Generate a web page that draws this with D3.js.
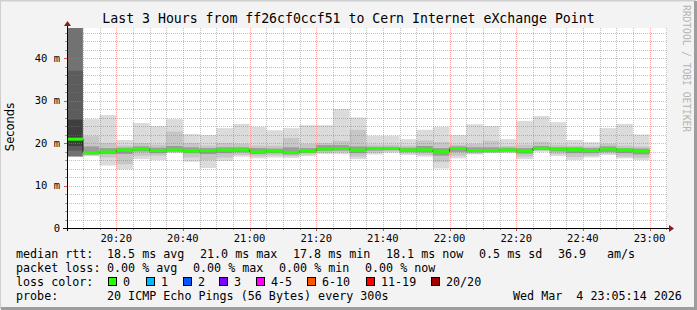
<!DOCTYPE html>
<html>
<head>
<meta charset="utf-8">
<script src="https://cdn.jsdelivr.net/npm/d3@7"></script>
<style>
body { margin: 0; background: #fff; }
svg { display: block; }
text { font-family: "DejaVu Sans Mono", monospace; fill: #000; }
</style>
</head>
<body>
<svg id="chart" width="697" height="310"></svg>
<script>
// median rtt per 5 min bin (ms), first bin is the partial one before 20:10
const median = [20.9, 17.7, 17.9, 18.35, 18.6, 18.2, 18.35, 18.1, 18.2, 18.35, 18.4, 17.9, 18.1, 17.8, 18.1, 18.6, 18.7, 18.35,
  18.7, 18.7, 18.35, 18.4, 17.95, 18.7, 18.2, 18.2, 18.35, 18.1, 18.75, 18.6, 18.5, 18.2, 18.6, 18.35, 18.1];
// smoke: outer (min..max), middle and inner spreads of the 20 pings
const pingMax = [47.5, 25.6, 26.6, 20.7, 24.7, 24.0, 25.6, 22.1, 21.9, 23.5, 24.5, 23.8, 23.0, 23.5, 24.2, 24.2, 28.0, 26.0,
  21.7, 21.7, 20.9, 23.1, 23.8, 21.9, 24.4, 24.0, 20.9, 25.2, 26.35, 24.9, 20.7, 20.2, 23.5, 24.5, 22.0];
const pingMin = [16.8, 16.9, 14.7, 13.8, 16.2, 16.0, 17.6, 15.6, 14.1, 15.8, 16.8, 16.4, 16.6, 16.5, 16.9, 17.4, 17.4, 16.2,
  17.3, 17.7, 17.2, 16.8, 14.0, 16.4, 17.3, 17.6, 17.6, 16.2, 17.95, 16.9, 16.0, 16.6, 17.2, 16.4, 16.0];
const midHi = [37.0, 21.6, 20.0, 19.4, 20.0, 19.6, 22.7, 20.0, 19.4, 20.0, 19.8, 19.4, 19.4, 21.2, 19.8, 20.0, 20.5, 23.1,
  19.6, 19.6, 19.4, 20.6, 20.2, 19.6, 19.8, 20.5, 19.3, 19.6, 20.3, 19.6, 19.4, 19.2, 19.8, 19.4, 19.2];
const midLo = [18.2, 17.1, 16.6, 15.0, 17.0, 17.0, 17.8, 16.6, 16.0, 16.6, 17.2, 16.9, 17.1, 16.9, 17.3, 17.7, 17.8, 16.8,
  17.7, 18.0, 17.5, 17.2, 15.5, 17.0, 17.5, 17.7, 17.8, 16.8, 18.1, 17.4, 16.7, 17.0, 17.5, 16.8, 16.5];
const coreHi = [25.5, 19.2, 18.8, 18.9, 19.2, 18.9, 19.3, 19.0, 18.8, 19.0, 19.0, 18.8, 18.7, 19.0, 18.8, 19.5, 19.5, 19.2,
  19.1, 19.1, 18.9, 19.3, 18.8, 19.2, 19.0, 19.0, 18.9, 18.8, 19.3, 19.0, 19.0, 18.8, 19.2, 18.8, 18.7];
const coreLo = [19.3, 17.3, 17.4, 17.4, 18.0, 17.6, 18.0, 17.6, 17.4, 17.6, 17.8, 17.4, 17.6, 17.3, 17.7, 18.1, 18.2, 17.6,
  18.2, 18.3, 17.9, 17.8, 17.0, 17.9, 17.8, 17.9, 18.0, 17.5, 18.4, 18.0, 17.6, 17.6, 17.9, 17.6, 17.3];

const yTicks = [0, 10, 20, 30, 40];
const yTickLabels = ["0", "10 m", "20 m", "30 m", "40 m"];
const xTickFormat = "%H:%M";

const lossNames = ["0", "1", "2", "3", "4-5", "6-10", "11-19", "20/20"];
const lossColors = ["#26ff00", "#00b8ff", "#0059ff", "#7e00ff", "#ff00ff", "#ff5500", "#ff0000", "#a10000"];

const title = "Last 3 Hours from ff26cf0ccf51 to Cern Internet eXchange Point";
const legendRows = [
  [["median rtt:", 16], ["18.5 ms avg", 107], ["21.0 ms max", 200], ["17.8 ms min", 293], ["18.1 ms now", 386], ["0.5 ms sd", 479], ["36.9", 558], ["am/s", 607]],
  [["packet loss:", 16], ["0.00 % avg", 107], ["0.00 % max", 193], ["0.00 % min", 279], ["0.00 % now", 365]],
  [["loss color:", 16]],
  [["probe:", 16], ["20 ICMP Echo Pings (56 Bytes) every 300s", 107], ["Wed Mar  4 23:05:14 2026", 513]]
];
const lossLegendX = [108, 146, 183, 219, 256, 307, 366, 431];

const start = new Date(2026, 2, 4, 20, 5, 14);
const end = new Date(2026, 2, 4, 23, 5, 14);
const binEnds = d3.timeMinute.every(5).range(new Date(2026, 2, 4, 20, 10), new Date(2026, 2, 4, 23, 0, 1));
const bins = binEnds.map((t, i) => ({
  start: i === 0 ? start : binEnds[i - 1],
  end: t,
  partial: i === 0,
  med: median[i],
  bands: [[pingMin[i], pingMax[i]], [midLo[i], midHi[i]], [coreLo[i], coreHi[i]]]
}));

const W = 697, H = 310;
const plot = {left: 67, right: 667, top: 28, bottom: 228};
const x = d3.scaleTime().domain([start, end]).range([plot.left, plot.right]);
const y = d3.scaleLinear().domain([0, 47.06]).range([plot.bottom, plot.top]);

const svg = d3.select("#chart");

// frame
svg.append("rect").attr("width", W).attr("height", H).attr("fill", "#f3f3f3");
svg.append("path").attr("d", `M0,${H - 1}V0.5H${W - 1}`).attr("fill", "none").attr("stroke", "#cfcfcf").attr("stroke-width", 2);
svg.append("path").attr("d", `M1,${H - 1.5}H${W - 1.5}V1`).attr("fill", "none").attr("stroke", "#9d9d9d").attr("stroke-width", 3);

svg.append("rect")
  .attr("x", plot.left).attr("y", plot.top)
  .attr("width", plot.right - plot.left).attr("height", plot.bottom - plot.top)
  .attr("fill", "#fff");

svg.append("clipPath").attr("id", "plotclip")
  .append("rect")
  .attr("x", plot.left).attr("y", plot.top)
  .attr("width", plot.right - plot.left).attr("height", plot.bottom - plot.top);

// smoke
const shades = ["#dbdbdb", "#c6c6c6", "#9c9c9c"];
const darkShades = ["#727272", "#5c5c5c", "#3e3e3e"];
const smoke = svg.append("g").attr("clip-path", "url(#plotclip)");
bins.forEach(b => {
  b.bands.forEach((band, k) => {
    smoke.append("rect")
      .attr("x", x(b.start))
      .attr("width", x(b.end) - x(b.start))
      .attr("y", y(band[1]))
      .attr("height", y(band[0]) - y(band[1]))
      .attr("fill", (b.partial ? darkShades : shades)[k]);
  });
});

// grid (semi-transparent dots, like rrdtool)
const minorCol = "rgba(120,120,120,0.45)", majorCol = "rgba(255,95,95,0.55)";
const grid = svg.append("g").attr("fill", "none").attr("stroke-width", 1).attr("stroke-dasharray", "1,1");
const minorX = d3.timeMinute.every(5).range(new Date(2026, 2, 4, 20, 10), end);
minorX.forEach(t => {
  const major = t.getMinutes() % 20 === 0;
  const px = Math.round(x(t)) + 0.5;
  grid.append("line")
    .attr("x1", px).attr("x2", px).attr("y1", plot.top).attr("y2", plot.bottom)
    .attr("stroke", major ? majorCol : minorCol);
  svg.append("line")
    .attr("x1", px).attr("x2", px).attr("y1", plot.bottom).attr("y2", plot.bottom + (major ? 3 : 2))
    .attr("stroke", major ? "#e05050" : "#999");
});
d3.range(2, 47, 2).forEach(v => {
  const major = v % 10 === 0;
  const py = Math.round(y(v)) + 0.5;
  grid.append("line")
    .attr("x1", plot.left).attr("x2", plot.right).attr("y1", py).attr("y2", py)
    .attr("stroke", major ? majorCol : minorCol);
  svg.append("line")
    .attr("x1", plot.left - (major ? 3 : 2)).attr("x2", plot.left).attr("y1", py).attr("y2", py)
    .attr("stroke", major ? "#e05050" : "#999");
});

// median
const stepLine = d3.line().x(d => x(d[0])).y(d => y(d[1])).curve(d3.curveStepAfter);
const stepPts = bins.map(b => [b.start, b.med]).concat([[bins[bins.length - 1].end, bins[bins.length - 1].med]]);
svg.append("path")
  .attr("d", stepLine(stepPts))
  .attr("fill", "none").attr("stroke", "#111").attr("stroke-width", 1);
svg.append("g").selectAll("line").data(bins).join("line")
  .attr("x1", d => x(d.start)).attr("x2", d => x(d.end))
  .attr("y1", d => y(d.med)).attr("y2", d => y(d.med))
  .attr("stroke", lossColors[0]).attr("stroke-width", 3);

// axes
svg.append("line").attr("x1", plot.left - 4).attr("x2", plot.right + 3)
  .attr("y1", plot.bottom + 0.5).attr("y2", plot.bottom + 0.5).attr("stroke", "#000");
svg.append("line").attr("x1", plot.left + 0.5).attr("x2", plot.left + 0.5)
  .attr("y1", plot.bottom + 3).attr("y2", plot.top - 3).attr("stroke", "#000");
svg.append("path").attr("d", `M${plot.left + 0.5},${plot.top - 7}l-3.5,5h7z`).attr("fill", "#8b1a1a");
svg.append("path").attr("d", `M${plot.right + 7},${plot.bottom + 0.5}l-5,-3.5v7z`).attr("fill", "#8b1a1a");

// tick labels
svg.append("g").selectAll("text").data(x.ticks(d3.timeMinute.every(20))).join("text")
  .attr("x", d => x(d)).attr("y", 241.5)
  .attr("text-anchor", "middle").attr("font-size", "10.5px")
  .text(d3.timeFormat(xTickFormat));
svg.append("g").selectAll("text").data(yTicks).join("text")
  .attr("x", 60).attr("y", d => y(d) + 3.8)
  .attr("text-anchor", "end").attr("font-size", "10.5px")
  .text((d, i) => yTickLabels[i]);

svg.append("text")
  .attr("transform", "translate(14,127) rotate(-90)")
  .attr("text-anchor", "middle")
  .style("font-family", "'DejaVu Sans', sans-serif").attr("font-size", "11.5px")
  .text("Seconds");

svg.append("text")
  .attr("x", W / 2).attr("y", 23)
  .attr("text-anchor", "middle").attr("font-size", "13.2px")
  .text(title);

svg.append("text")
  .attr("transform", "translate(683,5) rotate(90)")
  .attr("font-size", "9.6px").style("fill", "#b4b4b4")
  .text("RRDTOOL / TOBI OETIKER");

// legend
const rowY = [257.5, 271.5, 285.5, 299.5];
legendRows.forEach((row, r) => {
  row.forEach(([t, px]) => {
    svg.append("text").attr("x", px).attr("y", rowY[r]).attr("font-size", "11.7px")
      .style("white-space", "pre").text(t);
  });
});
lossNames.forEach((n, i) => {
  svg.append("rect")
    .attr("x", lossLegendX[i] + 0.5).attr("y", 277.5)
    .attr("width", 8).attr("height", 8)
    .attr("fill", lossColors[i]).attr("stroke", "#000");
  svg.append("text").attr("x", lossLegendX[i] + 15).attr("y", rowY[2])
    .attr("font-size", "11.7px").text(n);
});
</script>
</body>
</html>
